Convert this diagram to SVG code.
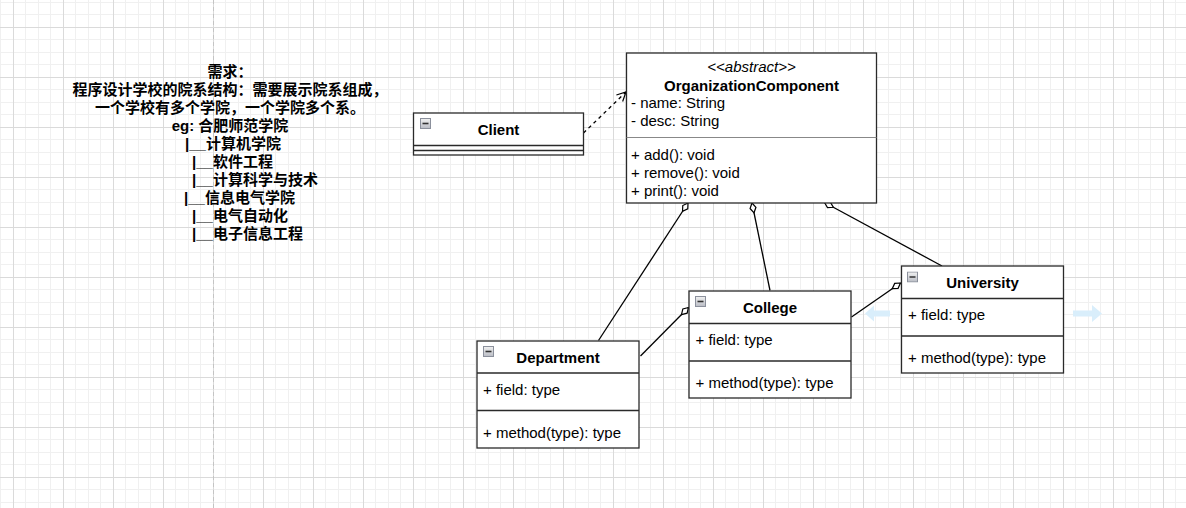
<svg xmlns="http://www.w3.org/2000/svg" width="1186" height="508" viewBox="0 0 1186 508">
  <defs>
    <pattern id="grid" patternUnits="userSpaceOnUse" x="13" y="27" width="50" height="50">
      <rect x="0" y="0" width="50" height="50" fill="#ffffff"/>
      <rect x="12" y="0" width="1" height="50" fill="#f0f0f0"/>
      <rect x="25" y="0" width="1" height="50" fill="#f0f0f0"/>
      <rect x="37" y="0" width="1" height="50" fill="#f0f0f0"/>
      <rect x="0" y="12" width="50" height="1" fill="#f0f0f0"/>
      <rect x="0" y="25" width="50" height="1" fill="#f0f0f0"/>
      <rect x="0" y="37" width="50" height="1" fill="#f0f0f0"/>
      <rect x="0" y="0" width="1" height="50" fill="#dadada"/>
      <rect x="0" y="0" width="50" height="1" fill="#dadada"/>
    </pattern>
    <linearGradient id="iconGrad" x1="0" y1="0" x2="0" y2="1">
      <stop offset="0" stop-color="#f2f2f2"/>
      <stop offset="1" stop-color="#b9bcc4"/>
    </linearGradient>
    <marker id="diamond" markerUnits="userSpaceOnUse" viewBox="-12 -5 13 10" markerWidth="13" markerHeight="10" refX="0" refY="0" orient="auto">
      <polygon points="0,0 -5,-3 -10,0 -5,3" fill="#ffffff" stroke="#000000" stroke-width="1.2" stroke-linejoin="miter"/>
    </marker>
    <marker id="openArrow" markerUnits="userSpaceOnUse" viewBox="-11 -6 12 12" markerWidth="12" markerHeight="12" refX="0" refY="0" orient="auto">
      <polyline points="-9,-4.5 0,0 -9,4.5" fill="none" stroke="#000000" stroke-width="1.2"/>
    </marker>
    <symbol id="minusIcon" viewBox="0 0 11 11" width="11" height="11">
      <rect x="0.5" y="0.5" width="10" height="10" fill="url(#iconGrad)" stroke="#8b909c" stroke-width="1"/>
      <line x1="2.5" y1="5.5" x2="8.5" y2="5.5" stroke="#333333" stroke-width="1.6"/>
    </symbol>
  </defs>
  <style>
    .box { fill: #ffffff; stroke: #2a2a2a; stroke-width: 1.3; }
    .sep { stroke: #2a2a2a; stroke-width: 1.3; }
    .sepg { stroke: #888888; stroke-width: 1; }
    .t { font-family: "Liberation Sans", Arial, sans-serif; font-size: 15px; fill: #000000; }
    .b { font-weight: bold; }
    .c { text-anchor: middle; }
    .note { font-family: "Liberation Sans", "Noto Sans CJK SC", sans-serif; font-size: 15px; font-weight: bold; fill: #000000; }
    .edge { fill: none; stroke: #000000; stroke-width: 1.3; }
    .hint { fill: #d9eefb; }
  </style>

  <rect x="0" y="0" width="1186" height="508" fill="url(#grid)"/>
  <line x1="213.5" y1="0" x2="213.5" y2="508" stroke="#c4c4c4" stroke-width="1" stroke-dasharray="4 3"/>

  <g id="note">
    <text class="note" x="230" y="77" text-anchor="middle">需求：</text>
    <text class="note" x="230" y="95" text-anchor="middle">程序设计学校的院系结构：需要展示院系组成，</text>
    <text class="note" x="230" y="113" text-anchor="middle">一个学校有多个学院，一个学院多个系。</text>
    <text class="note" x="230" y="131" text-anchor="middle">eg: 合肥师范学院</text>
    <text class="note" x="185" y="149">|__计算机学院</text>
    <text class="note" x="192" y="167">|__软件工程</text>
    <text class="note" x="192" y="185">|__计算科学与技术</text>
    <text class="note" x="184" y="203">|__信息电气学院</text>
    <text class="note" x="192" y="221">|__电气自动化</text>
    <text class="note" x="192" y="239">|__电子信息工程</text>
  </g>

  <g id="connectors">
    <path class="edge" d="M583.5,133 L626,92" stroke-dasharray="3.5 3.5" marker-end="url(#openArrow)"/>
    <path class="edge" d="M598.5,340.5 L688,203" marker-end="url(#diamond)"/>
    <path class="edge" d="M770,290.5 L752,203" marker-end="url(#diamond)"/>
    <path class="edge" d="M942,266 L824.5,202.5" marker-end="url(#diamond)"/>
    <path class="edge" d="M640.5,356 L688.5,307.5" marker-end="url(#diamond)"/>
    <path class="edge" d="M851.5,317 L900.5,283" marker-end="url(#diamond)"/>
  </g>

  <g id="hover-hints">
    <polygon class="hint" points="865,313.5 874,305.5 874,310.5 890,310.5 890,316.5 874,316.5 874,321.5"/>
    <polygon class="hint" points="1102,313.5 1092,305 1092,310.5 1073,310.5 1073,316.5 1092,316.5 1092,322"/>
  </g>

  <g id="organizationComponent">
    <rect class="box" x="626.5" y="53" width="250" height="150"/>
    <line class="sepg" x1="626.5" y1="137.5" x2="876.5" y2="137.5"/>
    <text class="t c" x="751.5" y="72" font-style="italic">&lt;&lt;abstract&gt;&gt;</text>
    <text class="t b c" x="751.5" y="90.5">OrganizationComponent</text>
    <text class="t" x="631" y="108">- name: String</text>
    <text class="t" x="631" y="126">- desc: String</text>
    <text class="t" x="631" y="160">+ add(): void</text>
    <text class="t" x="631" y="178">+ remove(): void</text>
    <text class="t" x="631" y="196">+ print(): void</text>
  </g>

  <g id="client">
    <rect class="box" x="413.5" y="113" width="170" height="42"/>
    <line class="sep" x1="413.5" y1="145.5" x2="583.5" y2="145.5"/>
    <line class="sep" x1="413.5" y1="150.5" x2="583.5" y2="150.5"/>
    <use href="#minusIcon" x="420" y="118"/>
    <text class="t b c" x="498.5" y="135">Client</text>
  </g>

  <g id="department">
    <rect class="box" x="477" y="341" width="162" height="107"/>
    <line class="sep" x1="477" y1="373" x2="639" y2="373"/>
    <line class="sep" x1="477" y1="410.5" x2="639" y2="410.5"/>
    <use href="#minusIcon" x="483" y="346"/>
    <text class="t b c" x="558" y="363">Department</text>
    <text class="t" x="483" y="395">+ field: type</text>
    <text class="t" x="483" y="438">+ method(type): type</text>
  </g>

  <g id="college">
    <rect class="box" x="689" y="291" width="162" height="107"/>
    <line class="sep" x1="689" y1="323.5" x2="851" y2="323.5"/>
    <line class="sep" x1="689" y1="361" x2="851" y2="361"/>
    <use href="#minusIcon" x="695" y="296"/>
    <text class="t b c" x="770" y="313">College</text>
    <text class="t" x="695.5" y="345">+ field: type</text>
    <text class="t" x="695.5" y="388">+ method(type): type</text>
  </g>

  <g id="university">
    <rect class="box" x="901.5" y="266" width="162" height="107"/>
    <line class="sep" x1="901.5" y1="298.5" x2="1063.5" y2="298.5"/>
    <line class="sep" x1="901.5" y1="336" x2="1063.5" y2="336"/>
    <use href="#minusIcon" x="907" y="271.5"/>
    <text class="t b c" x="982.5" y="288">University</text>
    <text class="t" x="908" y="320">+ field: type</text>
    <text class="t" x="908" y="363">+ method(type): type</text>
  </g>
</svg>
